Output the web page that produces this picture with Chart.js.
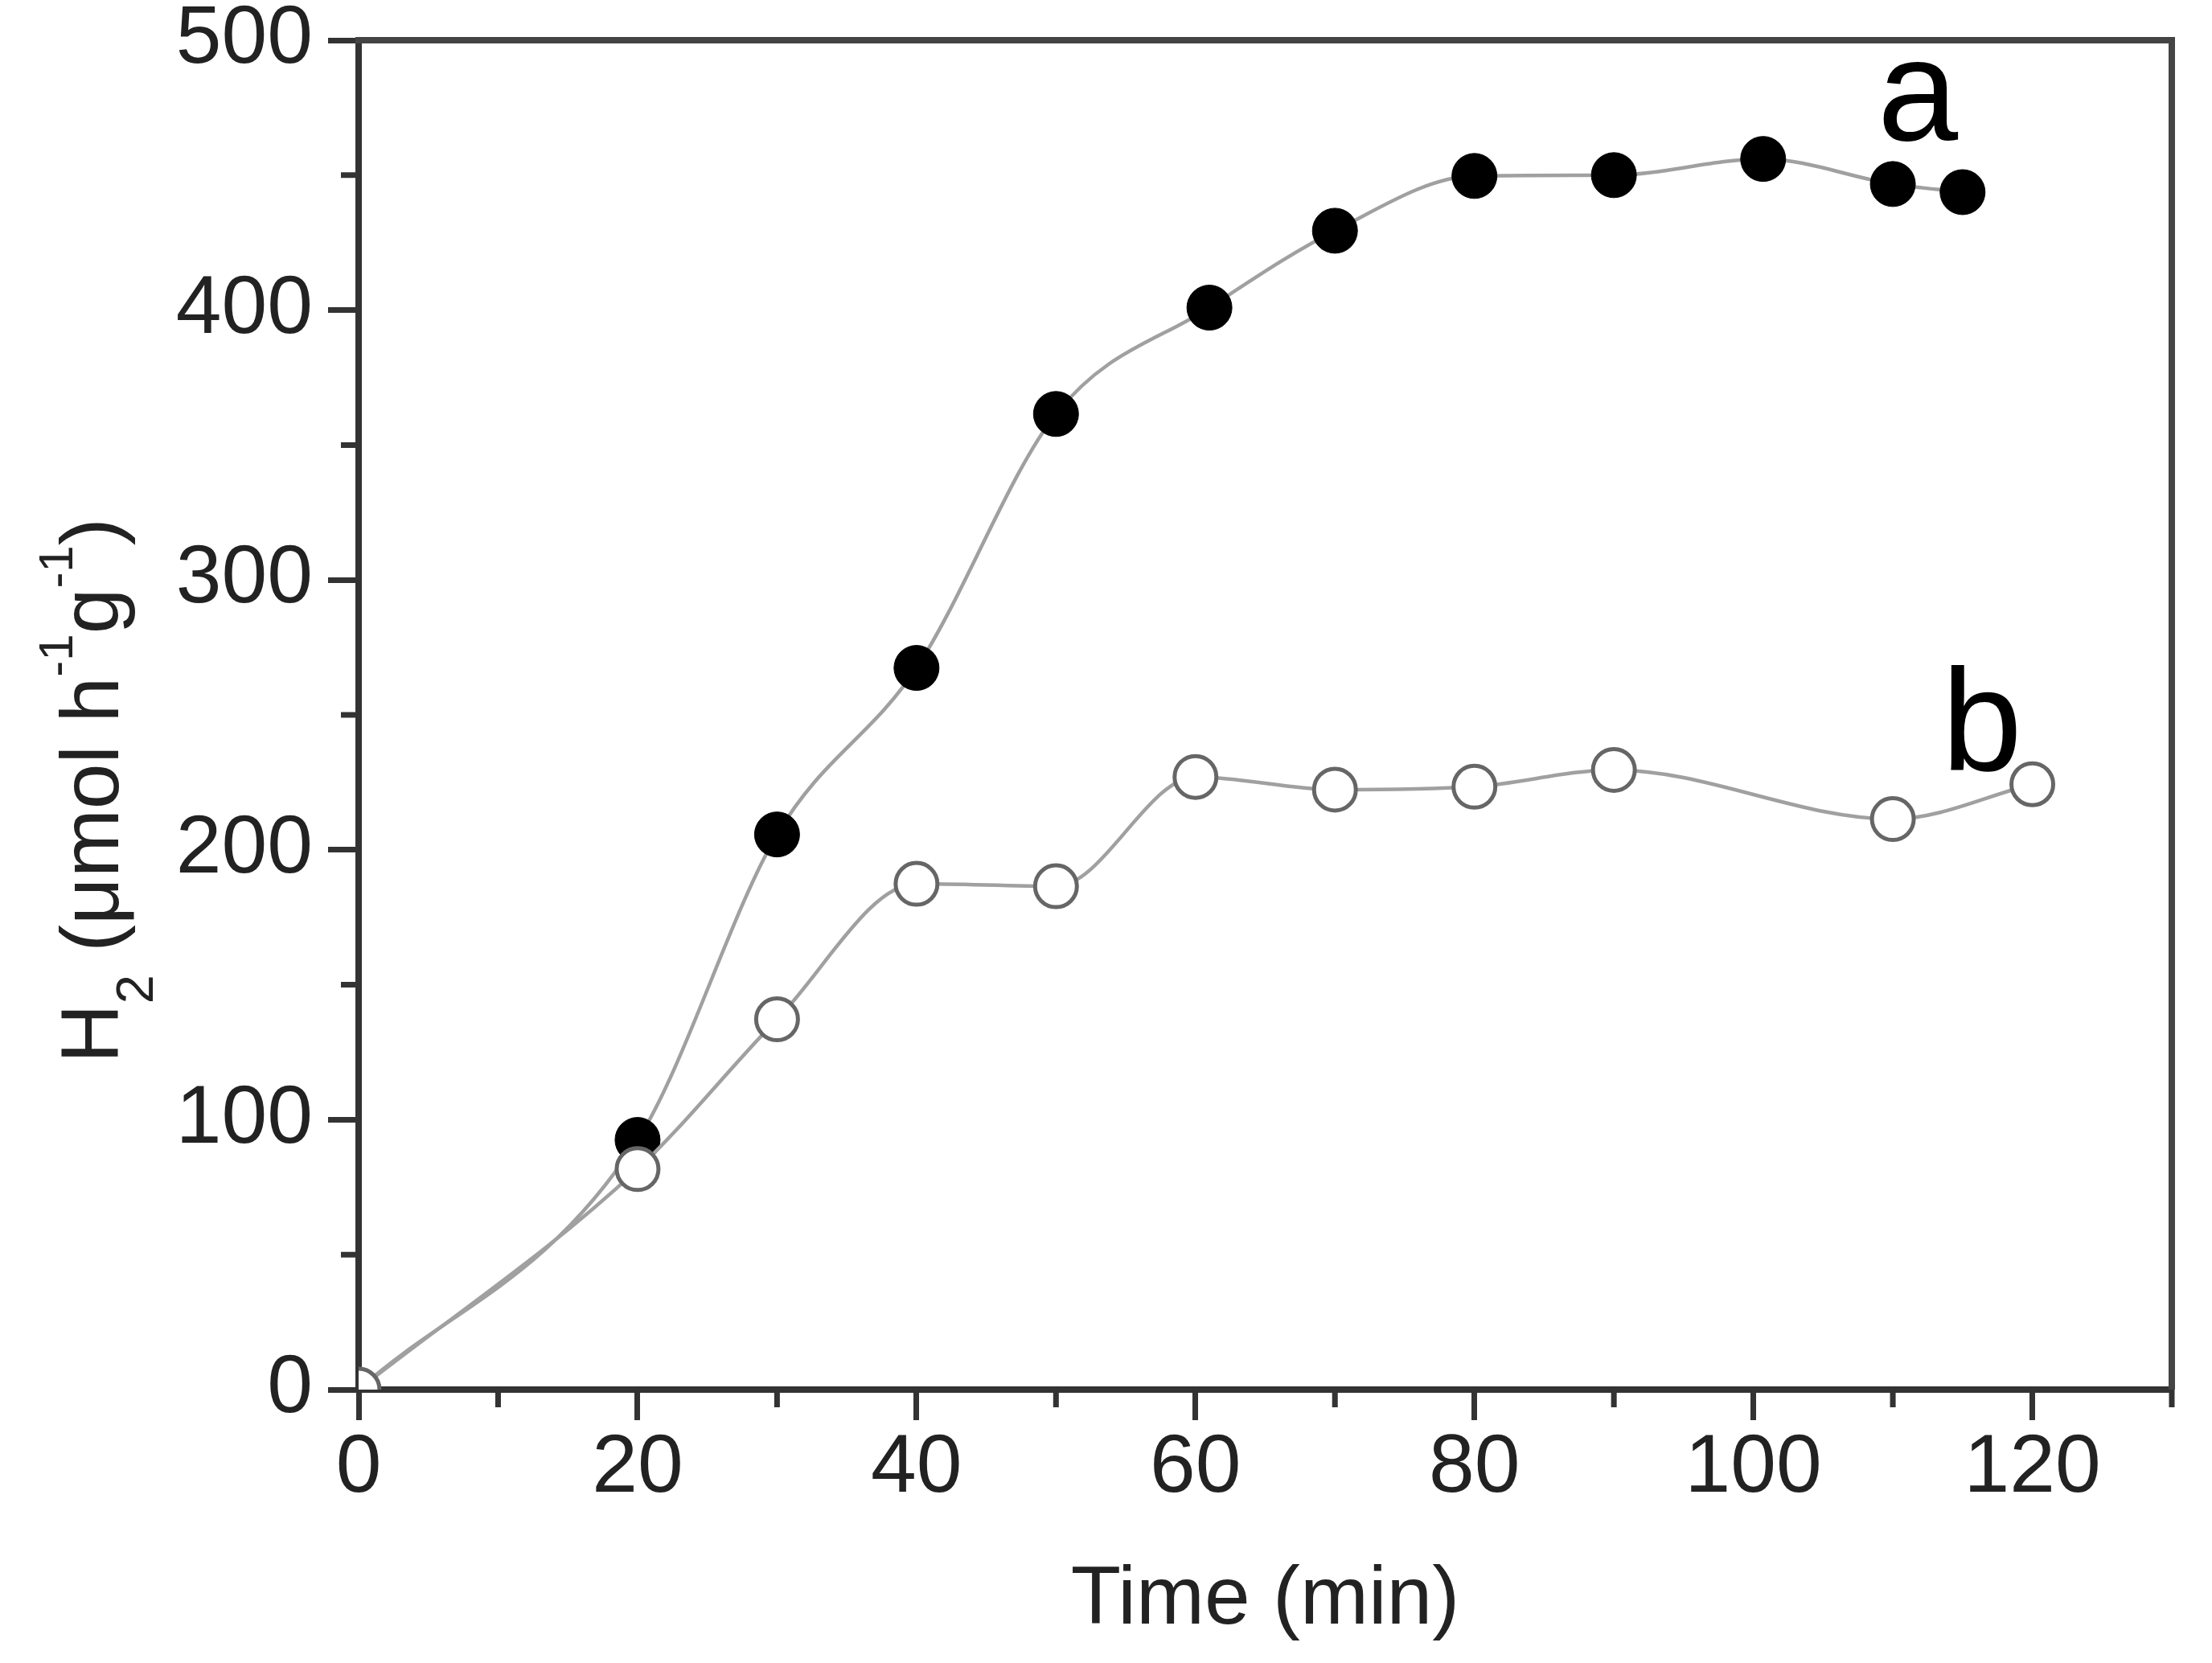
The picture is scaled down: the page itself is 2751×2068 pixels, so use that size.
<!DOCTYPE html>
<html>
<head>
<meta charset="utf-8">
<script src="https://cdn.jsdelivr.net/npm/chart.js@4"></script>
<style>
  html, body { margin: 0; padding: 0; background: #ffffff; }
  #c { display: block; }
</style>
</head>
<body>
<canvas id="c" width="2751" height="2068" style="width:2751px;height:2068px"></canvas>
<script>
// ---- data ----
const timeA = [0, 20, 30, 40, 50, 61, 70, 80, 90, 100.7, 110, 115];
const valueA = [0, 92.5, 205.7, 267.4, 361.5, 400.9, 429.4, 449.7, 450, 456, 446.7, 443.7];
const timeB = [0, 20, 30, 40, 50, 60, 70, 80, 90, 110, 120];
const valueB = [0, 81.7, 137.2, 187.4, 186.5, 227, 222.3, 223.4, 229.6, 211.4, 224.3];

const xMajorTicks = [0, 20, 40, 60, 80, 100, 120];
const xMinorTicks = [10, 30, 50, 70, 90, 110, 130];
const yMajorTicks = [0, 100, 200, 300, 400, 500];
const yMinorTicks = [50, 150, 250, 350, 450];

const xTitle = 'Time (min)';
const yTitleParts = [
  { t: 'H', size: 102, dy: 0 },
  { t: '2', size: 65, dy: 43 },
  { t: ' (\u03BCmol h', size: 102, dy: 0 },
  { t: '-1', size: 60, dy: -57 },
  { t: 'g', size: 102, dy: 0 },
  { t: '-1', size: 60, dy: -57 },
  { t: ')', size: 102, dy: 0 }
];
const curveLabels = [
  { text: 'a', x: 108.9, y: 463 },
  { text: 'b', x: 113.5, y: 229.5 }
];

const FONT = "'Liberation Sans', Arial, Helvetica, sans-serif";
const AXIS = '#333333';
const TEXT = '#222222';

const toXY = (xs, ys) => xs.map((x, i) => ({ x: x, y: ys[i] }));

const extrasPlugin = {
  id: 'extras',
  afterDraw(chart) {
    const ctx = chart.ctx;
    const xs = chart.scales.x, ys = chart.scales.y;
    const area = chart.chartArea;
    ctx.save();
    // top and right frame lines
    ctx.strokeStyle = '#444444';
    ctx.lineWidth = 8;
    ctx.beginPath();
    ctx.moveTo(area.left - 4, area.top);
    ctx.lineTo(area.right, area.top);
    ctx.lineTo(area.right, area.bottom);
    ctx.stroke();
    // minor ticks
    ctx.strokeStyle = AXIS;
    ctx.lineWidth = 7;
    ctx.beginPath();
    xMinorTicks.forEach(v => {
      const px = xs.getPixelForValue(v);
      ctx.moveTo(px, area.bottom);
      ctx.lineTo(px, area.bottom + 22);
    });
    yMinorTicks.forEach(v => {
      const py = ys.getPixelForValue(v);
      ctx.moveTo(area.left, py);
      ctx.lineTo(area.left - 22, py);
    });
    ctx.stroke();
    // curve labels
    ctx.fillStyle = '#000000';
    ctx.font = '180px ' + FONT;
    ctx.textAlign = 'left';
    ctx.textBaseline = 'alphabetic';
    curveLabels.forEach(l => {
      ctx.fillText(l.text, xs.getPixelForValue(l.x), ys.getPixelForValue(l.y));
    });
    // y-axis title with sub/superscripts
    ctx.fillStyle = TEXT;
    ctx.translate(147, 1322);
    ctx.rotate(-Math.PI / 2);
    let cx = 0;
    yTitleParts.forEach(p => {
      ctx.font = p.size + 'px ' + FONT;
      ctx.fillText(p.t, cx, p.dy);
      cx += ctx.measureText(p.t).width;
    });
    ctx.restore();
  }
};

new Chart(document.getElementById('c'), {
  type: 'scatter',
  data: {
    datasets: [
      {
        label: 'b',
        data: toXY(timeB, valueB),
        showLine: true,
        cubicInterpolationMode: 'monotone',
        borderColor: '#a0a0a0',
        borderWidth: 4.5,
        pointRadius: 26,
        pointBorderWidth: 5,
        pointBorderColor: '#666666',
        pointBackgroundColor: '#ffffff',
        order: 0
      },
      {
        label: 'a',
        data: toXY(timeA, valueA),
        showLine: true,
        cubicInterpolationMode: 'monotone',
        borderColor: '#a0a0a0',
        borderWidth: 4.5,
        pointRadius: ctx => (ctx.dataIndex === 0 ? 0 : 28),
        pointBorderWidth: 1,
        pointBorderColor: '#000000',
        pointBackgroundColor: '#000000',
        order: 1
      }
    ]
  },
  options: {
    responsive: false,
    devicePixelRatio: 1,
    animation: false,
    events: [],
    layout: { autoPadding: false, padding: { left: 0, top: 50, right: 50, bottom: 0 } },
    plugins: { legend: { display: false }, tooltip: { enabled: false } },
    scales: {
      x: {
        type: 'linear',
        min: 0,
        max: 130,
        z: 1,
        afterFit(scale) { scale.height = 340; },
        afterBuildTicks(scale) { scale.ticks = xMajorTicks.map(v => ({ value: v })); },
        border: { display: true, color: AXIS, width: 8 },
        grid: { display: true, drawOnChartArea: false, drawTicks: true, tickLength: 38, tickWidth: 7, tickColor: AXIS },
        ticks: {
          autoSkip: false, includeBounds: false, maxRotation: 0, padding: 0,
          color: TEXT, font: { family: FONT, size: 102 }
        },
        title: {
          display: true, text: xTitle, color: TEXT,
          font: { family: FONT, size: 102 }, padding: { top: 0, bottom: 16 }
        }
      },
      y: {
        type: 'linear',
        min: 0,
        max: 500,
        z: 1,
        afterFit(scale) { scale.width = 446; },
        afterBuildTicks(scale) { scale.ticks = yMajorTicks.map(v => ({ value: v })); },
        border: { display: true, color: AXIS, width: 8 },
        grid: { display: true, drawOnChartArea: false, drawTicks: true, tickLength: 38, tickWidth: 7, tickColor: AXIS },
        ticks: {
          autoSkip: false, includeBounds: false, padding: 19,
          color: TEXT, font: { family: FONT, size: 102, lineHeight: 0.6 }
        },
        title: { display: false }
      }
    }
  },
  plugins: [extrasPlugin]
});
</script>
</body>
</html>
